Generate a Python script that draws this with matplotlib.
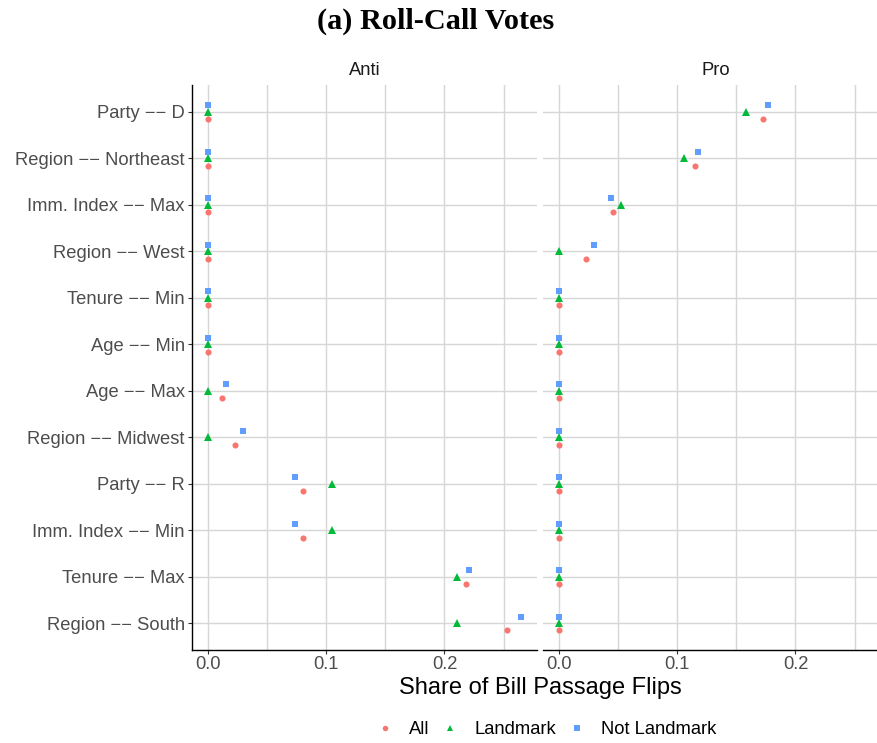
import numpy as np
import matplotlib
matplotlib.use("Agg")
from matplotlib import pyplot as plt
from matplotlib.lines import Line2D

# Rows, top to bottom
rows = ["Party \u2212\u2212 D", "Region \u2212\u2212 Northeast", "Imm. Index \u2212\u2212 Max",
        "Region \u2212\u2212 West", "Tenure \u2212\u2212 Min", "Age \u2212\u2212 Min",
        "Age \u2212\u2212 Max", "Region \u2212\u2212 Midwest", "Party \u2212\u2212 R",
        "Imm. Index \u2212\u2212 Min", "Tenure \u2212\u2212 Max", "Region \u2212\u2212 South"]

# Anti panel
anti_all = [0, 0, 0, 0, 0, 0, 0.0116, 0.023, 0.0806, 0.0806, 0.2184, 0.253]
anti_landmark = [0, 0, 0, 0, 0, 0, 0, 0, 0.105, 0.105, 0.2105, 0.2105]
anti_not = [0, 0, 0, 0, 0, 0, 0.0152, 0.0296, 0.0735, 0.0735, 0.2206, 0.2646]

# Pro panel
pro_all = [0.1724, 0.115, 0.0459, 0.0231, 0, 0, 0, 0, 0, 0, 0, 0]
pro_landmark = [0.158, 0.1054, 0.0527, 0, 0, 0, 0, 0, 0, 0, 0, 0]
pro_not = [0.1767, 0.1175, 0.044, 0.0296, 0, 0, 0, 0, 0, 0, 0, 0]

groups = ["All", "Landmark", "Not Landmark"]
colors = {"All": "#F8766D", "Landmark": "#00BA38", "Not Landmark": "#619CFF"}
markers = {"All": ("o", 4.4), "Landmark": ("^", 5.2), "Not Landmark": ("s", 4.3)}
dodge = {"All": 0.16, "Landmark": 0.0, "Not Landmark": -0.14}

panels = [("Anti", {"All": anti_all, "Landmark": anti_landmark, "Not Landmark": anti_not}),
          ("Pro", {"All": pro_all, "Landmark": pro_landmark, "Not Landmark": pro_not})]

plt.rcParams['font.family'] = ['Liberation Sans', 'DejaVu Sans']

W, H = 878, 743
fig = plt.figure(figsize=(W / 100, H / 100), dpi=100)

grid_c = "#D6D6D6"
y = np.arange(1, len(rows) + 1)
xlim = (-0.0133, 0.278)
lefts = [192.3, 543.3]
pw = 344.4

for i, (name, data) in enumerate(panels):
    ax = fig.add_axes([lefts[i] / W, 1 - 650 / H, pw / W, 565 / H])
    for x in [0, 0.05, 0.1, 0.15, 0.2, 0.25]:
        ax.axvline(x, color=grid_c, lw=1.0, zorder=0)
    for yy in y:
        ax.axhline(yy, color=grid_c, lw=1.0, zorder=0)
    for g in groups:
        m, ms = markers[g]
        ax.plot(data[g], y + dodge[g], ls="none", marker=m, ms=ms,
                color=colors[g], mew=0, zorder=3, clip_on=False)
    ax.set_xlim(xlim)
    ax.set_ylim(12.58, 0.42)
    ax.set_xticks([0, 0.1, 0.2])
    ax.set_xticklabels(["0.0", "0.1", "0.2"])
    ax.set_yticks(y)
    ax.set_yticklabels(rows if i == 0 else [])
    ax.tick_params(axis="x", length=3, width=0.8, color="#333333",
                   labelsize=13.2, labelcolor="#4D4D4D", pad=1.5)
    ax.tick_params(axis="y", length=3, width=0.8, color="#333333",
                   labelsize=13.2, labelcolor="#4D4D4D", pad=2.5)
    for s in ["top", "right"]:
        ax.spines[s].set_visible(False)
    ax.spines["bottom"].set_linewidth(1.0)
    ax.spines["left"].set_linewidth(1.0)
    if i == 1:
        ax.spines["left"].set_visible(False)
        ax.tick_params(axis="y", length=0)
    ax.set_title(name, fontsize=13.2, color="#1A1A1A", pad=7)

fig.text(540 / W, 1 - 688 / H, "Share of Bill Passage Flips", fontsize=17,
         ha="center", va="center")
fig.text(436 / W, 1 - 21 / H, "(a) Roll-Call Votes", fontsize=21.8, fontweight="bold",
         family="Liberation Serif", ha="center", va="center")

handles = [Line2D([], [], ls="none", marker=markers[g][0], ms=markers[g][1] * 0.9,
                  color=colors[g], mew=0) for g in groups]
fig.legend(handles, groups, loc="center", bbox_to_anchor=(546 / W, 1 - 730 / H),
           ncol=3, frameon=False, fontsize=13.2, handlelength=1.0, handletextpad=0.8,
           columnspacing=0.65)

fig.savefig("out.png", dpi=100)
plt.close()
